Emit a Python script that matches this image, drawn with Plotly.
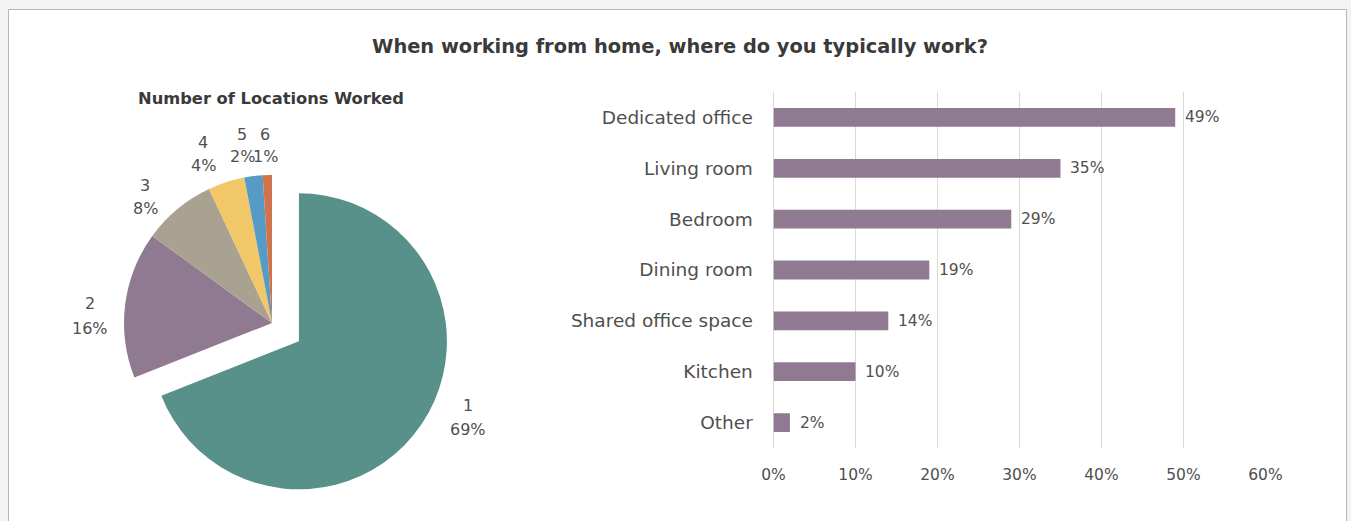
import plotly.graph_objects as go

# Canvas size in pixels
W, H = 1351, 521

# ---- data -----------------------------------------------------------------
main_title = "When working from home, where do you typically work?"
pie_title = "Number of Locations Worked"

location_counts = ["1", "2", "3", "4", "5", "6"]
location_shares = [69, 16, 8, 4, 2, 1]

places = ["Dedicated office", "Living room", "Bedroom", "Dining room",
          "Shared office space", "Kitchen", "Other"]
place_shares = [49, 35, 29, 19, 14, 10, 2]

x_tick_values = [0, 10, 20, 30, 40, 50, 60]
x_tick_labels = ["0%", "10%", "20%", "30%", "40%", "50%", "60%"]

# ---- styling ----------------------------------------------------------------
FONT = "DejaVu Sans"
TEXT = "#4f4f4f"
pie_colors = ["#57918a", "#8f7a91", "#a9a290", "#f1c768", "#559bc6", "#d0734a"]
bar_color = "#8f7a91"
grid_color = "#d9d9d9"

# pixel placement of the pie data labels (centre x, name y, percent y)
pie_label_pos = [(468, 405, 429), (90, 303, 328), (145, 185, 208),
                 (203, 142, 165), (242, 134, 157), (265, 134, 157)]


def px(x):
    return x / W


def py(y):
    return 1 - y / H


fig = go.Figure()

# Pie: number of locations worked, largest slice pulled out
pie_r = 148
pull = 0.22
box = 2 * pie_r * (1 + pull)
cx, cy = 272, 323
fig.add_trace(go.Pie(
    labels=location_counts,
    values=location_shares,
    sort=False,
    direction="clockwise",
    rotation=0,
    pull=[pull, 0, 0, 0, 0, 0],
    marker=dict(colors=pie_colors, line=dict(width=0)),
    textinfo="none",
    hoverinfo="label+percent",
    showlegend=False,
    automargin=False,
    domain=dict(x=[px(cx - box / 2), px(cx + box / 2)],
                y=[py(cy + box / 2), py(cy - box / 2)]),
))

# Horizontal bars: typical work locations
fig.add_trace(go.Bar(
    x=place_shares,
    y=places,
    orientation="h",
    marker=dict(color=bar_color, line=dict(width=0)),
    width=0.37,
    showlegend=False,
    xaxis="x",
    yaxis="y",
    hovertemplate="%{y}: %{x}%<extra></extra>",
))

annotations = []
# value labels to the right of each bar
for place, share in zip(places, place_shares):
    annotations.append(dict(
        x=share, y=place, xref="x", yref="y",
        text=f"{share}%", showarrow=False,
        xanchor="left", yanchor="middle", xshift=8,
        font=dict(family=FONT, size=15.5, color=TEXT),
    ))

# pie slice labels: category on top, percentage below
for name, share, (lx, ny, sy) in zip(location_counts, location_shares, pie_label_pos):
    for text, ty in ((name, ny), (f"{share}%", sy)):
        annotations.append(dict(x=px(lx), y=py(ty), xref="paper", yref="paper",
                                text=text, showarrow=False,
                                xanchor="center", yanchor="middle",
                                font=dict(family=FONT, size=16, color=TEXT)))

# titles
annotations.append(dict(x=px(680), y=py(46), xref="paper", yref="paper",
                        text=f"<b>{main_title}</b>", showarrow=False,
                        xanchor="center", yanchor="middle",
                        font=dict(family=FONT, size=19.4, color="#3a3a3a")))
annotations.append(dict(x=px(271), y=py(98), xref="paper", yref="paper",
                        text=f"<b>{pie_title}</b>", showarrow=False,
                        xanchor="center", yanchor="middle",
                        font=dict(family=FONT, size=16.3, color="#3a3a3a")))

fig.update_layout(
    width=W, height=H,
    autosize=False,
    margin=dict(l=0, r=0, t=0, b=0, pad=0, autoexpand=False),
    paper_bgcolor="#f3f3f3",
    plot_bgcolor="rgba(0,0,0,0)",
    font=dict(family=FONT, color=TEXT),
    xaxis=dict(
        domain=[px(773.5), px(1265.5)],
        range=[0, 60.01],
        tickvals=x_tick_values,
        ticktext=x_tick_labels,
        showgrid=True, gridcolor=grid_color, gridwidth=1,
        zeroline=True, zerolinecolor=grid_color, zerolinewidth=1,
        showline=False,
        ticks="outside", ticklen=12, tickcolor="rgba(0,0,0,0)",
        tickfont=dict(family=FONT, size=15.5, color=TEXT),
        anchor="y",
        automargin=False,
        fixedrange=True,
    ),
    yaxis=dict(
        domain=[py(448), py(92)],
        categoryorder="array",
        categoryarray=places[::-1],
        showgrid=False, zeroline=False, showline=False,
        ticks="outside", ticklen=16, tickcolor="rgba(0,0,0,0)",
        tickfont=dict(family=FONT, size=18.5, color=TEXT),
        anchor="x",
        automargin=False,
        fixedrange=True,
    ),
    shapes=[dict(type="rect", xref="paper", yref="paper",
                 x0=px(8.5), x1=px(1346.5), y0=py(540), y1=py(9.5),
                 line=dict(color="#bdb6a6", width=1),
                 fillcolor="white", layer="below")],
    annotations=annotations,
)

fig.write_html("out.html")
